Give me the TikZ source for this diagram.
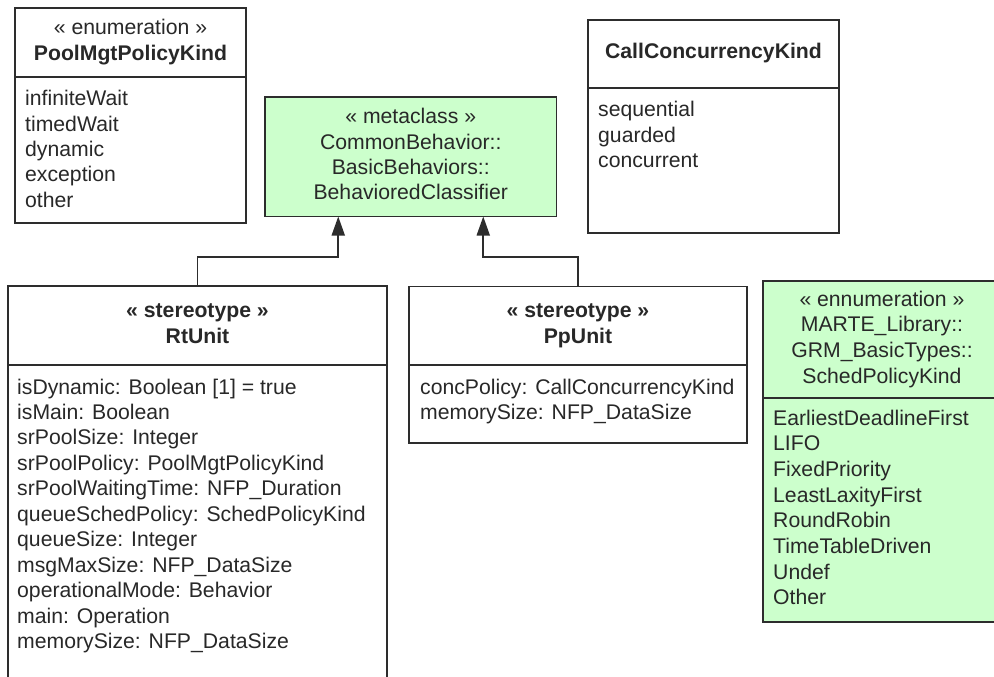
\documentclass[tikz,border=0pt]{standalone}
\usepackage{fontspec}
\setmainfont{Liberation Sans}
\usetikzlibrary{arrows.meta,calc}
\definecolor{umlgreen}{RGB}{204,255,204}
\definecolor{linec}{RGB}{45,45,45}
\definecolor{txtc}{RGB}{40,40,40}
\newcommand{\umlfont}{\fontsize{21.2}{25.5}\selectfont}
\begin{document}
\begin{tikzpicture}[x=1pt,y=-1pt,
  umlbox/.style={draw=linec,line width=1.8pt,fill=white,inner sep=0pt,outer sep=0pt,anchor=north west},
  greenbox/.style={umlbox,fill=umlgreen},
  divline/.style={draw=linec,line width=1.8pt},
  hd/.style={anchor=base,inner sep=0pt,font=\umlfont,text=txtc},
  hdb/.style={hd,font=\umlfont\bfseries},
  item/.style={anchor=base west,inner sep=0pt,font=\umlfont,text=txtc},
  gen/.style={draw=linec,line width=1.8pt,-{Triangle[length=19pt,width=13pt]}}]
\useasboundingbox (0,0) rectangle (994,677);
\fill[white] (0,0) rectangle (994,677);
\clip (0,0) rectangle (994,677);

% PoolMgtPolicyKind
\node[umlbox,minimum width=231pt,minimum height=214.5pt] (pool) at (15,8.3) {};
\draw[divline] (pool.west |- 0,76.7) -- (pool.east |- 0,76.7);
\node[hd] (pool-s) at (130.5,35) {« enumeration »};
\node[hdb] (pool-n) at (130.5,60.5) {PoolMgtPolicyKind};
\foreach \t [count=\i] in {infiniteWait,timedWait,dynamic,exception,other}
  \node[item] (pool-i\i) at (25,{106+25.3*(\i-1)}) {\t};

% Metaclass
\node[greenbox,minimum width=291.5pt,minimum height=119.5pt] (meta) at (265,97) {};
\node[hd] (meta-1) at (410.75,124) {« metaclass »};
\node[hd] (meta-2) at (410.75,149) {CommonBehavior::};
\node[hd] (meta-3) at (410.75,174) {BasicBehaviors::};
\node[hd] (meta-4) at (410.75,199) {BehavioredClassifier};

% CallConcurrencyKind
\node[umlbox,minimum width=251pt,minimum height=213pt] (cck) at (588,20) {};
\draw[divline] (cck.west |- 0,88) -- (cck.east |- 0,88);
\node[hdb] (cck-n) at (713.5,58.5) {CallConcurrencyKind};
\foreach \t [count=\i] in {sequential,guarded,concurrent}
  \node[item] (cck-i\i) at (598,{117+25*(\i-1)}) {\t};

% RtUnit
\node[umlbox,minimum width=379pt,minimum height=394pt] (rt) at (8,286) {};
\draw[divline] (rt.west |- 0,365) -- (rt.east |- 0,365);
\node[hdb] (rt-s) at (197.5,317.5) {« stereotype »};
\node[hdb] (rt-n) at (197.5,343) {RtUnit};
\foreach \t [count=\i] in {{isDynamic: Boolean [1] = true},{isMain: Boolean},{srPoolSize: Integer},{srPoolPolicy: PoolMgtPolicyKind},{srPoolWaitingTime: NFP\_Duration},{queueSchedPolicy: SchedPolicyKind},{queueSize: Integer},{msgMaxSize: NFP\_DataSize},{operationalMode: Behavior},{main: Operation},{memorySize: NFP\_DataSize}}
  \node[item] (rt-i\i) at (17,{394+25.45*(\i-1)}) {\t};

% PpUnit
\node[umlbox,minimum width=338pt,minimum height=156.5pt] (pp) at (409,286.5) {};
\draw[divline] (pp.west |- 0,365) -- (pp.east |- 0,365);
\node[hdb] (pp-s) at (578,317.5) {« stereotype »};
\node[hdb] (pp-n) at (578,343) {PpUnit};
\node[item] (pp-i1) at (420,394) {concPolicy: CallConcurrencyKind};
\node[item] (pp-i2) at (420,419.5) {memorySize: NFP\_DataSize};

% SchedPolicyKind
\node[greenbox,minimum width=240pt,minimum height=341pt] (sched) at (763,281) {};
\draw[divline] (sched.west |- 0,398) -- (sched.east |- 0,398);
\node[hd] (sched-1) at (882,306) {« ennumeration »};
\node[hd] (sched-2) at (882,331.7) {MARTE\_Library::};
\node[hd] (sched-3) at (882,357.3) {GRM\_BasicTypes::};
\node[hd] (sched-4) at (882,383) {SchedPolicyKind};
\foreach \t [count=\i] in {EarliestDeadlineFirst,LIFO,FixedPriority,LeastLaxityFirst,RoundRobin,TimeTableDriven,Undef,Other}
  \node[item] (sched-i\i) at (773,{425+25.7*(\i-1)}) {\t};

% Generalizations
\coordinate (ml) at ([xshift=-72.5pt]meta.south);
\coordinate (mr) at ([xshift=72.5pt]meta.south);
\draw[gen] (rt.north) -- ++(0,-29) -| (ml);
\draw[gen] (pp.north) -- ++(0,-29.5) -| (mr);
\end{tikzpicture}
\end{document}
